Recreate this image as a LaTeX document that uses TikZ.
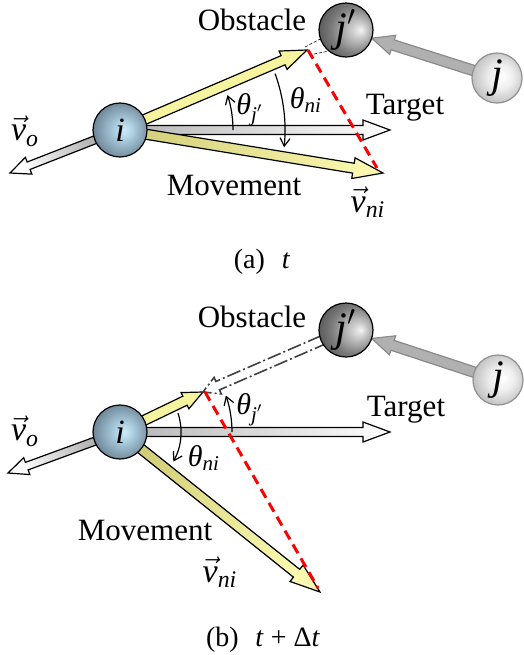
\documentclass[tikz,border=0pt]{standalone}
\usepackage{amsmath}
\usepackage{fontspec}
\setmainfont{Liberation Serif}
\usetikzlibrary{calc,arrows.meta}

\definecolor{ylw}{HTML}{F7F4A0}
\definecolor{ylwS}{HTML}{D2CE78}
\definecolor{ylwE}{HTML}{FBF9B0}
\definecolor{tgtS}{HTML}{B4B4B4}
\definecolor{voS}{HTML}{A0A0A0}
\definecolor{garr}{HTML}{B0B0B0}
\definecolor{garrD}{HTML}{8A8A8A}
\definecolor{ghost}{HTML}{404040}
\definecolor{ic1}{HTML}{CDEBF8}
\definecolor{ic2}{HTML}{AED1E3}
\definecolor{ic3}{HTML}{62798A}
\definecolor{jp1}{HTML}{F4F4F4}
\definecolor{jp2}{HTML}{D0D0D0}
\definecolor{jp3}{HTML}{7A7A7A}
\definecolor{jp4}{HTML}{3C3C3C}
\definecolor{jj1}{HTML}{FFFFFF}
\definecolor{jj2}{HTML}{EEEEEE}
\definecolor{jj3}{HTML}{B8B8B8}
\definecolor{jjD}{HTML}{909090}

\pgfdeclareradialshading{ishade}{\pgfpoint{4bp}{0bp}}{color(0bp)=(ic1); color(8bp)=(ic2); color(30bp)=(ic3); color(50bp)=(ic3)}
\pgfdeclareradialshading{jpshade}{\pgfpoint{14bp}{0bp}}{color(0bp)=(jp1); color(6bp)=(jp2); color(22bp)=(jp3); color(40bp)=(jp4); color(50bp)=(jp4)}
\pgfdeclareradialshading{jshade}{\pgfpoint{5bp}{2bp}}{color(0bp)=(jj1); color(12bp)=(jj2); color(30bp)=(jj3); color(50bp)=(jj3)}

% fat arrow: start, tip, shaft half width, head half width, head length, style
\newcommand\fatarrow[6]{%
  \coordinate (fah) at ($(#2)!#5!(#1)$);
  \path[#6] ($(#1)!#3!90:(#2)$) -- ($(fah)!#3!90:(#2)$) -- ($(fah)!#4!90:(#2)$) -- (#2)
    -- ($(fah)!#4!-90:(#2)$) -- ($(fah)!#3!-90:(#2)$) -- ($(#1)!#3!-90:(#2)$) -- cycle;}

\newcommand\vni{{\fontsize{17}{18}\selectfont$\vec{\textit{v}}_{\textit{ni}}$}}
\newcommand\vo{{\fontsize{17}{18}\selectfont$\vec{\textit{v}}_{\textit{o}}$}}
\newcommand\thj{{\fontsize{15}{16}\selectfont$\textit{θ}_{\textit{j}'}$}}
\newcommand\thn{{\fontsize{15}{16}\selectfont$\textit{θ}_{\textit{ni}}$}}

\tikzset{
  arrowline/.style={draw=black, line width=0.6pt, line join=miter},
  tgtarrow/.style={arrowline, top color=tgtS, bottom color=white, shading angle=#1},
  voarrow/.style={arrowline, top color=voS, bottom color=white, shading angle=#1},
  movarrow/.style={arrowline, top color=ylwS, bottom color=ylwE, shading angle=#1},
  obsarrow/.style={arrowline, fill=ylw},
  grayarrow/.style={draw=garrD, line width=0.6pt, fill=garr},
  ghostline/.style={draw=ghost, line width=0.8pt, dash pattern=on 7pt off 1.5pt on 1pt off 1.5pt},
  tangline/.style={draw=black, line width=0.3pt, dash pattern=on 1.5pt off 1pt},
  reddash/.style={draw=red, line width=1.5pt, dash pattern=on 5pt off 3pt},
  anglearc/.style={draw=black, line width=0.6pt, -{Straight Barb[length=4pt,width=5pt]}},
  ballI/.style={circle, draw=black, line width=0.6pt, shading=ishade, minimum size=27pt, inner sep=0pt, font=\fontsize{17}{18}\selectfont},
  ballJp/.style={circle, draw=black, line width=0.6pt, shading=jpshade, minimum size=27pt, inner sep=0pt, font=\fontsize{21}{22}\selectfont},
  ballJ/.style={circle, draw=jjD, line width=0.6pt, shading=jshade, minimum size=25pt, inner sep=0pt, font=\fontsize{21}{22}\selectfont},
  lbl/.style={inner sep=0pt},
  captext/.style={inner sep=0pt, font=\fontsize{14}{16}\selectfont}
}

\begin{document}
\begin{tikzpicture}[x=0.5pt, y=-0.5pt, font=\fontsize{15.5}{18}\selectfont]
\useasboundingbox (0,0) rectangle (524,655);

%================ panel (a) ================
\coordinate (iac) at (120,130);
\coordinate (taA) at (390,130);
\coordinate (oaA) at (307,50);
\coordinate (maA) at (383,173);
\coordinate (vaA) at (10,173);
\coordinate (jpac) at (346,30);
\coordinate (jac) at (497,78);
\coordinate (ra1) at (308,50);
\coordinate (ra2) at (377,168);
\coordinate (t1s) at (305,47);
\coordinate (t1e) at (326,36);
\coordinate (t2s) at (309,55);
\coordinate (t2e) at (334,50);

\fatarrow{iac}{taA}{2.25pt}{5pt}{13.5pt}{tgtarrow=90}
\fatarrow{iac}{maA}{2.5pt}{5.25pt}{15pt}{movarrow=80.7}
\fatarrow{iac}{oaA}{2.5pt}{5pt}{13pt}{obsarrow}
\fatarrow{iac}{vaA}{2pt}{4.5pt}{10pt}{voarrow=-68.6}
\draw[tangline] (t1s) -- (t1e);
\draw[tangline] (t2s) -- (t2e);
\coordinate (gtA) at ($(jpac)!13.5pt!(jac)$);
\fatarrow{jac}{gtA}{2.6pt}{5pt}{11pt}{grayarrow}
\draw[reddash] (ra1) -- (ra2);

\node[ballI] (ia) at (iac) {$\textit{i}$};
\node[ballJp] (jpa) at (jpac) {$\textit{j}'$};
\node[ballJ] (ja) at (jac) {$\textit{j}$};

\draw[anglearc] ($(iac)+(0:113)$) arc[start angle=0, end angle=-18, radius=113];
\draw[anglearc] ($(iac)+(-20:165)$) arc[start angle=-20, end angle=6, radius=165];

\node[lbl] (obsA) at (252,20) {Obstacle};
\node[lbl] (tgtA) at (405,108) {Target};
\node[lbl] (movA) at (234,185) {Movement};
\node[lbl] (vniA) at (368,202) {\vni};
\node[lbl] (voA) at (25,131) {\vo};
\node[lbl] (thjA) at (250,110) {\thj};
\node[lbl] (thnA) at (306,100) {\thn};
\node[captext] (capA) at (262,262) {(a)\hspace{0.6em}\textit{t}};

%================ panel (b) ================
\coordinate (ibc) at (120,432);
\coordinate (taB) at (390,432);
\coordinate (oaB) at (203,392);
\coordinate (maB) at (320,592);
\coordinate (vaB) at (8,473);
\coordinate (jpbc) at (346,330);
\coordinate (jbc) at (498,380);
\coordinate (rb1) at (205,392);
\coordinate (rb2) at (318,588);

\fatarrow{ibc}{taB}{2.25pt}{5pt}{13.5pt}{tgtarrow=90}
\fatarrow{ibc}{maB}{2.5pt}{5.25pt}{15pt}{movarrow=51.3}
\fatarrow{ibc}{oaB}{2.5pt}{4.5pt}{10pt}{obsarrow}
\fatarrow{ibc}{vaB}{2pt}{4.5pt}{10pt}{voarrow=-69.9}
\fatarrow{jpbc}{oaB}{2.3pt}{4.5pt}{8pt}{ghostline}
\coordinate (gtB) at ($(jpbc)!13.5pt!(jbc)$);
\fatarrow{jbc}{gtB}{2.6pt}{5pt}{11pt}{grayarrow}
\draw[reddash] (rb1) -- (rb2);

\node[ballI] (ib) at (ibc) {$\textit{i}$};
\node[ballJp] (jpb) at (jpbc) {$\textit{j}'$};
\node[ballJ] (jb) at (jbc) {$\textit{j}$};

\draw[anglearc] ($(ibc)+(0:112)$) arc[start angle=0, end angle=-19, radius=112];
\draw[anglearc] ($(ibc)+(-18:61)$) arc[start angle=-18, end angle=29, radius=61];

\node[lbl] (obsB) at (252,317) {Obstacle};
\node[lbl] (tgtB) at (406,410) {Target};
\node[lbl] (movB) at (145,530) {Movement};
\node[lbl] (vniB) at (220,572) {\vni};
\node[lbl] (voB) at (25,431) {\vo};
\node[lbl] (thjB) at (250,410) {\thj};
\node[lbl] (thnB) at (204,458) {\thn};
\node[captext] (capB) at (263,640) {(b)\hspace{0.6em}\textit{t} + Δ\textit{t}};
\end{tikzpicture}
\end{document}
